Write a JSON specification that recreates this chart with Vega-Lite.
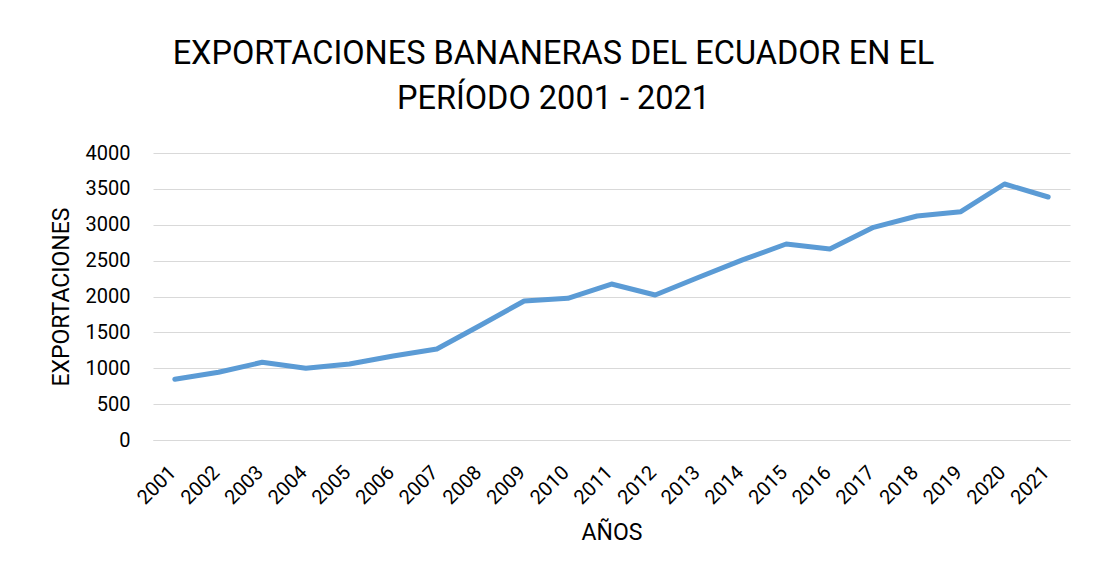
{
  "$schema": "https://vega.github.io/schema/vega-lite/v6.json",
  "width": 917,
  "height": 287,
  "autosize": {"type": "none"},
  "padding": {"left": 153, "top": 153, "right": 24, "bottom": 137},
  "background": "white",
  "title": {
    "text": ["EXPORTACIONES BANANERAS DEL ECUADOR EN EL", "PERÍODO 2001 - 2021"],
    "font": "Roboto",
    "fontSize": 32.5,
    "fontWeight": "normal",
    "color": "#000000",
    "anchor": "middle",
    "dx": -58,
    "offset": 28,
    "lineHeight": 45
  },
  "data": {
    "values": [
      {"year": "2001", "exp": 846},
      {"year": "2002", "exp": 945},
      {"year": "2003", "exp": 1083},
      {"year": "2004", "exp": 999},
      {"year": "2005", "exp": 1059},
      {"year": "2006", "exp": 1171},
      {"year": "2007", "exp": 1268},
      {"year": "2008", "exp": 1600},
      {"year": "2009", "exp": 1937},
      {"year": "2010", "exp": 1975},
      {"year": "2011", "exp": 2174},
      {"year": "2012", "exp": 2021},
      {"year": "2013", "exp": 2268},
      {"year": "2014", "exp": 2510},
      {"year": "2015", "exp": 2732},
      {"year": "2016", "exp": 2662},
      {"year": "2017", "exp": 2964},
      {"year": "2018", "exp": 3122},
      {"year": "2019", "exp": 3182},
      {"year": "2020", "exp": 3568},
      {"year": "2021", "exp": 3387}
    ]
  },
  "mark": {"type": "line", "color": "#5B9BD5", "strokeWidth": 5, "strokeCap": "round", "strokeJoin": "round"},
  "encoding": {
    "x": {
      "field": "year",
      "type": "ordinal",
      "scale": {"type": "band", "paddingInner": 0, "paddingOuter": 0},
      "axis": {
        "title": "AÑOS",
        "titleFont": "Roboto",
        "titleFontSize": 23,
        "titleFontWeight": "normal",
        "titleColor": "#000000",
        "titlePadding": 14,
        "labelAngle": -45,
        "labelAlign": "right",
        "labelBaseline": "top",
        "labelFont": "Roboto",
        "labelFontSize": 20,
        "labelColor": "#000000",
        "labelPadding": 22,
        "labelOffset": -9,
        "ticks": false,
        "domain": true,
        "domainColor": "#d9d9d9",
        "domainWidth": 1,
        "grid": false
      }
    },
    "y": {
      "field": "exp",
      "type": "quantitative",
      "scale": {"domain": [0, 4000], "nice": false},
      "axis": {
        "title": "EXPORTACIONES",
        "titleFont": "Roboto",
        "titleFontSize": 23,
        "titleFontWeight": "normal",
        "titleColor": "#000000",
        "titlePadding": 12,
        "values": [0, 500, 1000, 1500, 2000, 2500, 3000, 3500, 4000],
        "format": "d",
        "labelFont": "Roboto",
        "labelFontSize": 20,
        "labelColor": "#000000",
        "labelPadding": 23,
        "ticks": false,
        "domain": false,
        "grid": true,
        "gridColor": "#d9d9d9",
        "gridWidth": 1
      }
    }
  },
  "config": {
    "view": {"stroke": null}
  }
}
